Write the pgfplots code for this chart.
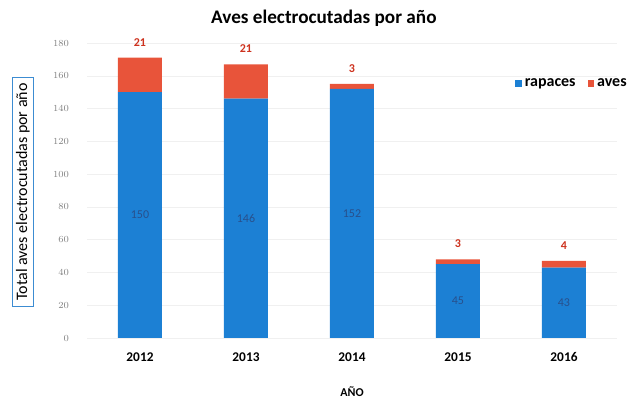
\documentclass[border=0pt]{standalone}
\usepackage{pgfplots}
\usepackage{pgfplotstable}
\pgfplotsset{compat=1.18}
\usepackage{fontspec}
\setmainfont{Carlito}
\definecolor{barblue}{RGB}{28,128,212}
\definecolor{barred}{RGB}{232,84,58}
\definecolor{lblblue}{RGB}{40,80,140}
\definecolor{lblred}{RGB}{205,50,30}
\definecolor{boxblue}{RGB}{60,140,210}
\pgfplotstableread{
x rapaces aves
0 150 21
1 146 21
2 152 3
3 45 3
4 43 4
}\datatable
\begin{document}
\begin{tikzpicture}
\useasboundingbox (-65.25pt,-46.5pt) rectangle (412.5pt,253.5pt);
\begin{axis}[
  at={(0pt,0pt)}, anchor=south west,
  scale only axis, width=397.5pt, height=221.25pt,
  ybar stacked, bar width=33pt,
  xmin=-0.5, xmax=4.5, ymin=0, ymax=180,
  xtick={0,1,2,3,4}, xticklabels={2012,2013,2014,2015,2016},
  ytick={0,20,...,180},
  ymajorgrids, grid style={gray!12},
  axis line style={draw=none}, major tick length=0pt,
  x tick label style={font=\normalsize\bfseries, yshift=-7.5pt},
  y tick label style={font=\scriptsize, text=gray, xshift=-10pt},
  title={\bfseries Aves electrocutadas por año},
  title style={font=\Large, at={(axis description cs:0.447,1)}, anchor=south, yshift=3pt},
  xlabel={\bfseries AÑO},
  xlabel style={font=\small, at={(axis description cs:0.5,0)}, anchor=center, yshift=-40pt},
  ylabel={Total aves electrocutadas por año},
  ylabel style={font=\fontsize{12}{14}\selectfont, at={(axis description cs:-0.1208,0.495)}, anchor=center, draw=boxblue, line width=0.6pt, inner xsep=4.5pt, inner ysep=2.5pt},
  legend style={at={(axis description cs:0.80,0.862)}, anchor=west, draw=none, fill=none, font=\large\bfseries, legend columns=2, /tikz/every even column/.append style={column sep=7pt}},
  legend image code/.code={\fill[#1] (0cm,-0.09cm) rectangle (0.18cm,0.09cm);},
]
\addplot[fill=barblue, draw=none, point meta=explicit,
  nodes near coords={\pgfmathprintnumber[assume math mode=true]{\pgfplotspointmeta}},
  every node near coord/.style={font=\small, text=lblblue, anchor=center}]
  table[x=x, y=rapaces, meta=rapaces] {\datatable};
\addlegendentry{rapaces}
\addplot[fill=barred, draw=none, point meta=explicit,
  nodes near coords={\pgfmathprintnumber[assume math mode=true]{\pgfplotspointmeta}},
  visualization depends on=\thisrow{aves} \as \seg,
  every node near coord/.style={font=\small\bfseries, text=lblred, anchor=south, yshift=5pt, shift={(axis direction cs:0,\seg/2)}}]
  table[x=x, y=aves, meta=aves] {\datatable};
\addlegendentry{aves}
\end{axis}
\end{tikzpicture}
\end{document}
